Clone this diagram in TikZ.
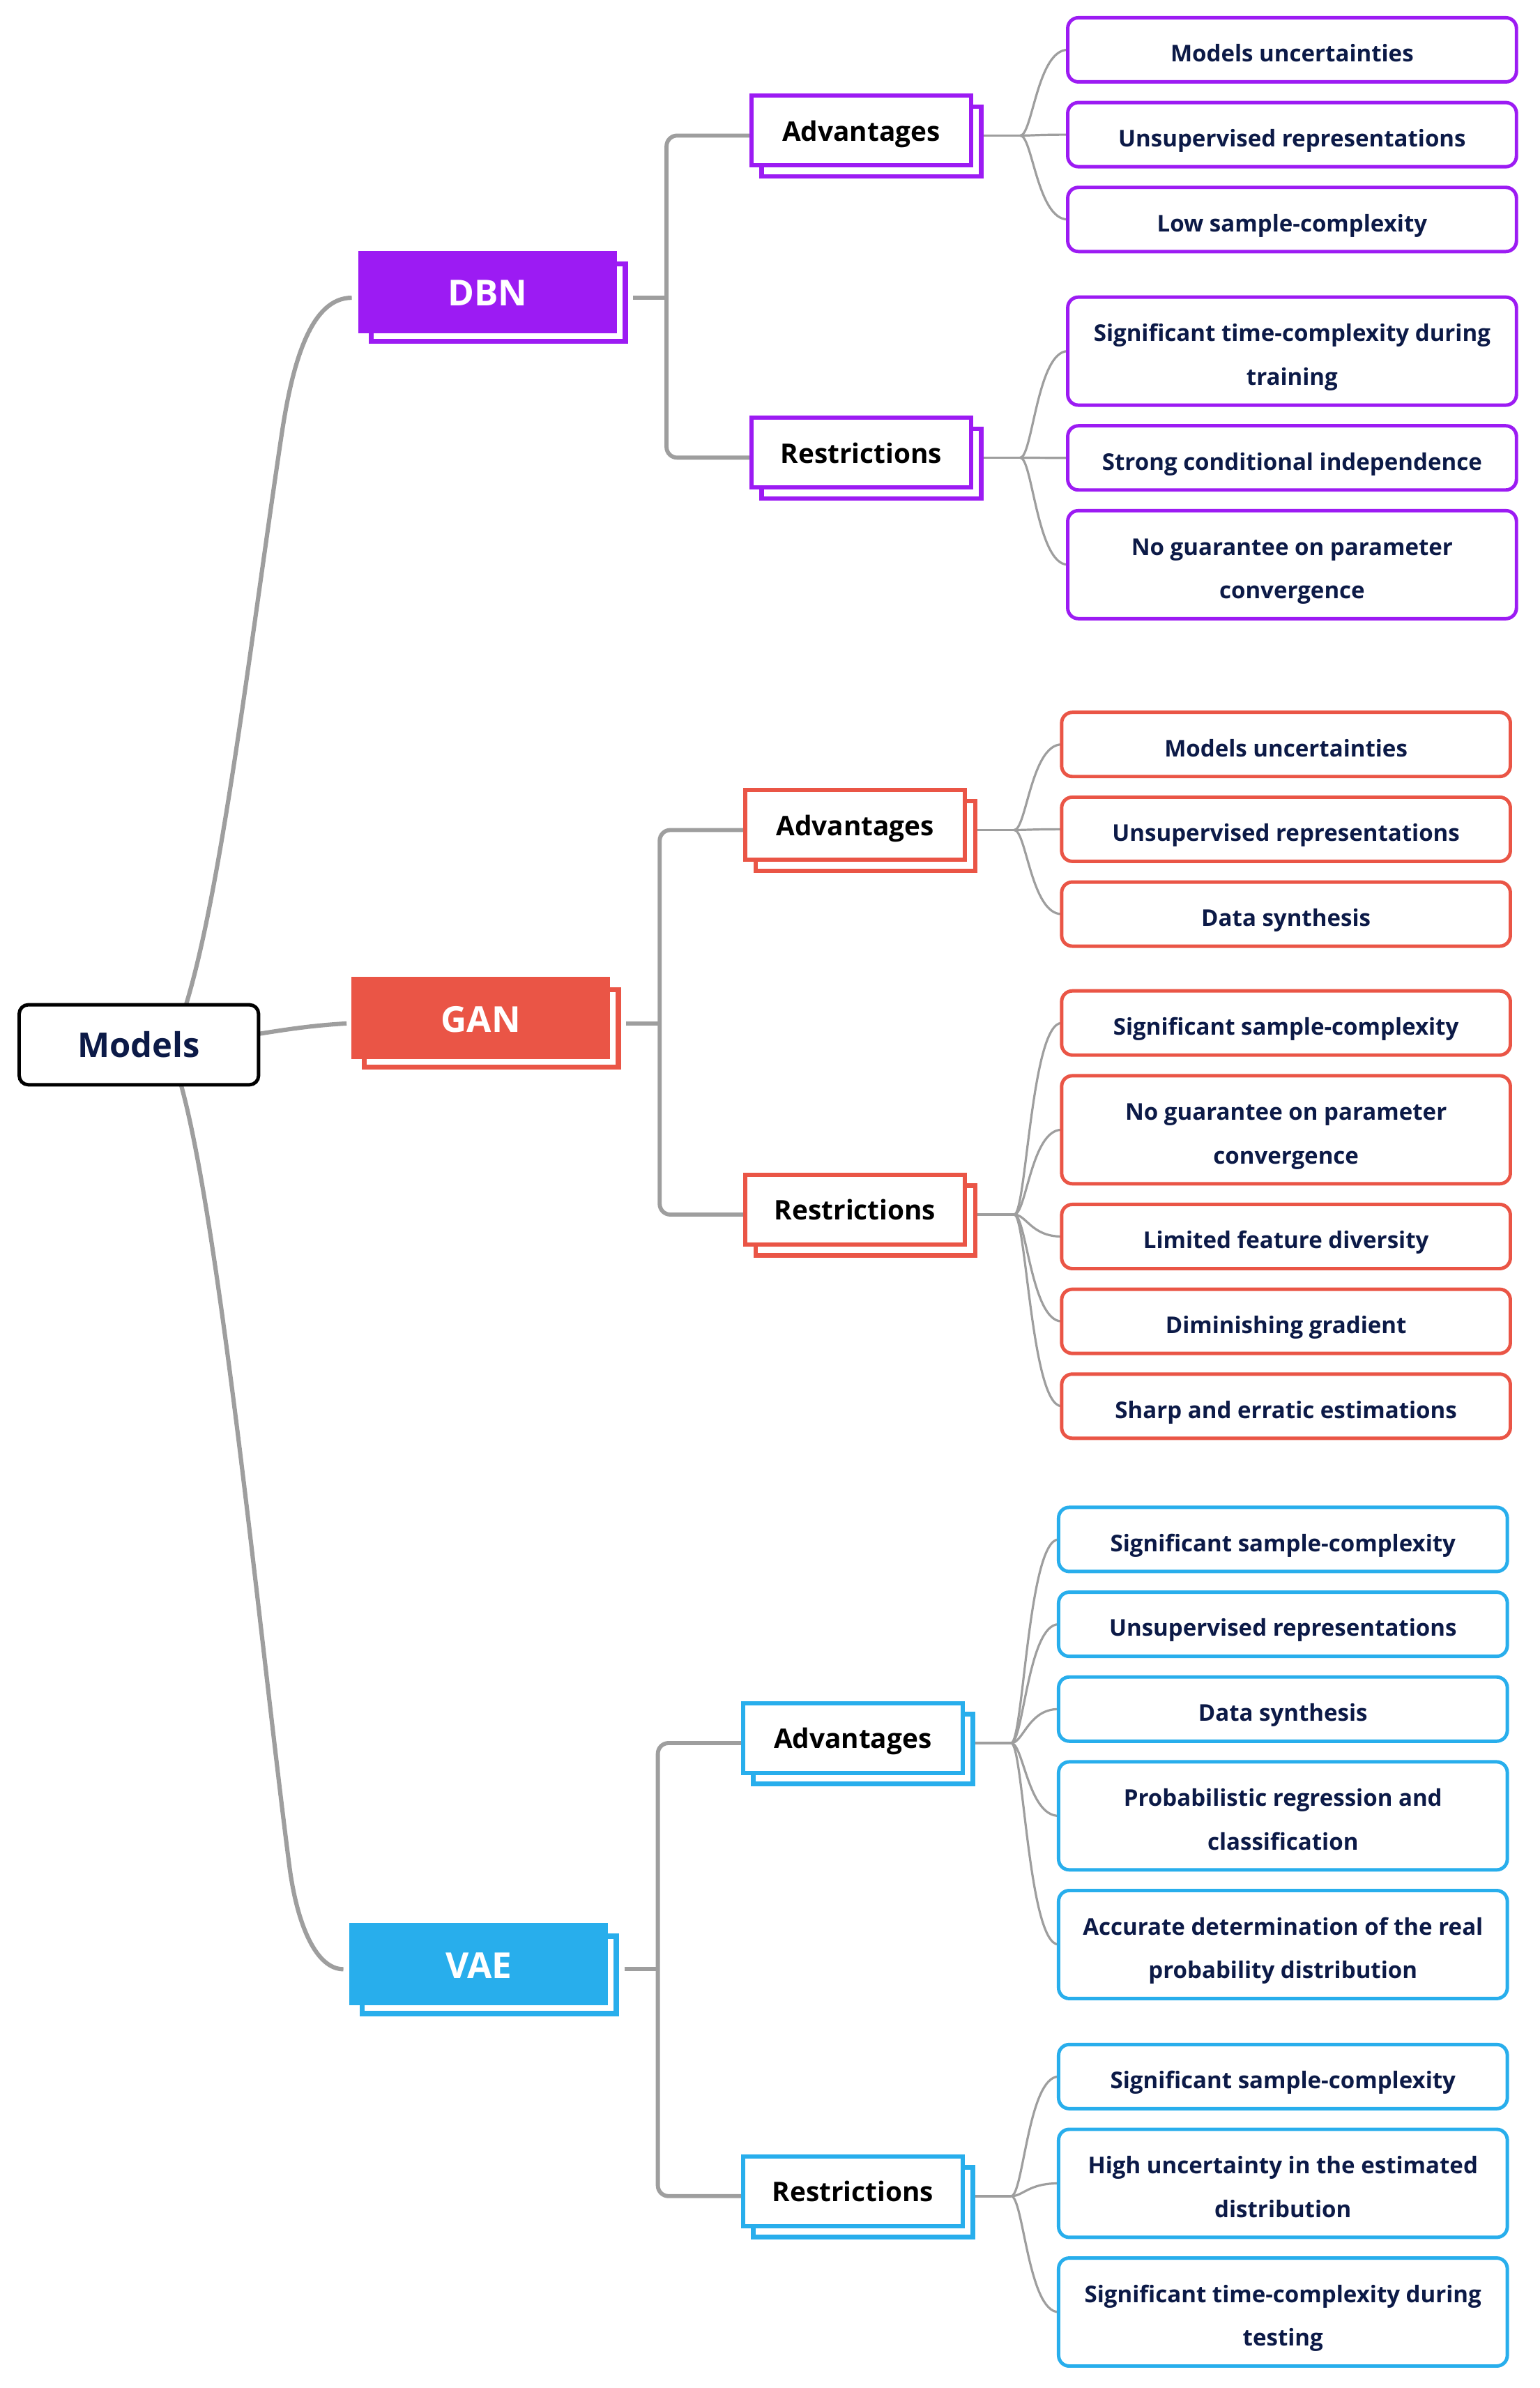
\documentclass[tikz,border=0pt]{standalone}
\usepackage{fontspec}
\setmainfont{Open Sans}
\usetikzlibrary{backgrounds}
\definecolor{navy}{HTML}{0C1A47}
\definecolor{cdbn}{HTML}{9C1BF3}
\definecolor{cgan}{HTML}{EA5546}
\definecolor{cvae}{HTML}{28AEEC}
\definecolor{gline}{HTML}{9E9E9E}
\newcommand\tlines[2]{\vtop{\halign{\hfil##\hfil\cr #1\cr #2\cr}}}
\begin{document}
\begin{tikzpicture}[x=0.75pt,y=-0.75pt,
  leafbox/.style={draw=#1, line width=1.7pt, rounded corners=5.25pt, fill=white,
    minimum width=221pt, minimum height=31.6pt, inner sep=0pt, outer sep=0pt,
    text height=11.9pt, text depth=0pt,
    text=navy, font=\fontsize{11.35}{21.45}\selectfont\bfseries},
  leafboxd/.style={leafbox=#1, minimum height=53.2pt, text height=0pt, text depth=9.4pt},
  midbox/.style={draw=#1, line width=2.06pt, fill=white, minimum width=108.15pt,
    minimum height=34.35pt, inner sep=0pt, outer sep=0pt, text=black,
    text height=10.3pt, text depth=0pt,
    font=\fontsize{13.3}{15}\selectfont\bfseries},
  midshadow/.style={draw=#1, line width=2.25pt, fill=white},
  bigbox/.style={fill=#1, minimum width=127.5pt, minimum height=40.5pt, inner sep=0pt,
    outer sep=0pt, text=white, text height=13.6pt, text depth=0pt,
    font=\fontsize{17.6}{20}\selectfont\bfseries},
  bigshadow/.style={draw=#1, line width=2.5pt, fill=white},
  rootbox/.style={draw=black, line width=1.7pt, rounded corners=4.5pt, fill=white,
    minimum width=117.9pt, minimum height=39.4pt, inner sep=0pt, outer sep=0pt,
    text height=12.3pt, text depth=0pt,
    text=navy, font=\fontsize{16.8}{20}\selectfont\bfseries},
  mainconn/.style={draw=gline, line width=2.1pt},
  barconn/.style={draw=gline, line width=2pt, rounded corners=5.25pt},
  stubconn/.style={draw=gline, line width=1.3pt},
  leafconn/.style={draw=gline, line width=1.1pt}
]
\useasboundingbox (0,0) rectangle (1011,1568);

% root
\node[rootbox] (models) at (91.2,686) {Models};

% big boxes
\draw[bigshadow=cdbn] (243.8,173.3) rectangle (410.6,224.1);
\node[bigbox=cdbn] (dbn) at (320.3,191.8) {DBN};
\draw[bigshadow=cgan] (239.3,650) rectangle (406.1,700.8);
\node[bigbox=cgan] (gan) at (315.8,668.5) {GAN};
\draw[bigshadow=cvae] (237.9,1271.3) rectangle (404.7,1322.1);
\node[bigbox=cvae] (vae) at (314.4,1289.8) {VAE};

% mid boxes
\draw[midshadow=cdbn] (500.2,70) rectangle (644.4,115.8);
\node[midbox=cdbn] (dbnadv) at (565.5,85.7) {Advantages};
\draw[midshadow=cdbn] (500.2,281.5) rectangle (644.4,327.3);
\node[midbox=cdbn] (dbnres) at (565.5,297.2) {Restrictions};
\draw[midshadow=cgan] (496.2,526) rectangle (640.4,571.8);
\node[midbox=cgan] (ganadv) at (561.5,541.7) {Advantages};
\draw[midshadow=cgan] (496.2,778.5) rectangle (640.4,824.3);
\node[midbox=cgan] (ganres) at (561.5,794.2) {Restrictions};
\draw[midshadow=cvae] (494.7,1125.5) rectangle (638.9,1171.3);
\node[midbox=cvae] (vaeadv) at (560,1141.2) {Advantages};
\draw[midshadow=cvae] (494.7,1423) rectangle (638.9,1468.8);
\node[midbox=cvae] (vaeres) at (560,1438.7) {Restrictions};

% DBN leaves
\node[leafbox=cdbn] (da1) at (848.5,32.7) {Models uncertainties};
\node[leafbox=cdbn] (da2) at (848.5,88.4) {Unsupervised representations};
\node[leafbox=cdbn] (da3) at (848.5,144.1) {Low sample-complexity};
\node[leafboxd=cdbn] (dr1) at (848.5,230.55) {\tlines{Significant time-complexity during}{training}};
\node[leafbox=cdbn] (dr2) at (848.5,300.65) {Strong conditional independence};
\node[leafboxd=cdbn] (dr3) at (848.5,370.75) {\tlines{No guarantee on parameter}{convergence}};

% GAN leaves
\node[leafbox=cgan] (ga1) at (844.5,488.8) {Models uncertainties};
\node[leafbox=cgan] (ga2) at (844.5,544.5) {Unsupervised representations};
\node[leafbox=cgan] (ga3) at (844.5,600.2) {Data synthesis};
\node[leafbox=cgan] (gr1) at (844.5,671.7) {Significant sample-complexity};
\node[leafboxd=cgan] (gr2) at (844.5,741.8) {\tlines{No guarantee on parameter}{convergence}};
\node[leafbox=cgan] (gr3) at (844.5,811.9) {Limited feature diversity};
\node[leafbox=cgan] (gr4) at (844.5,867.6) {Diminishing gradient};
\node[leafbox=cgan] (gr5) at (844.5,923.3) {Sharp and erratic estimations};

% VAE leaves
\node[leafbox=cvae] (va1) at (842.5,1010.8) {Significant sample-complexity};
\node[leafbox=cvae] (va2) at (842.5,1066.5) {Unsupervised representations};
\node[leafbox=cvae] (va3) at (842.5,1122.2) {Data synthesis};
\node[leafboxd=cvae] (va4) at (842.5,1192.3) {\tlines{Probabilistic regression and}{classification}};
\node[leafboxd=cvae] (va5) at (842.5,1276.8) {\tlines{Accurate determination of the real}{probability distribution}};
\node[leafbox=cvae] (vr1) at (842.5,1363.5) {Significant sample-complexity};
\node[leafboxd=cvae] (vr2) at (842.5,1433.6) {\tlines{High uncertainty in the estimated}{distribution}};
\node[leafboxd=cvae] (vr3) at (842.5,1518.1) {\tlines{Significant time-complexity during}{testing}};

% connection points
\coordinate (dbnin) at (231,195.5);
\coordinate (dbnout) at (415.9,195.5);
\coordinate (dbnbar) at (437.7,195.5);
\coordinate (dbnadvin) at (493,89);
\coordinate (dbnresin) at (493,300.5);
\coordinate (dbnadvout) at (645.9,89);
\coordinate (dbnadvj) at (670,89);
\coordinate (dbnresout) at (645.9,300.5);
\coordinate (dbnresj) at (670,300.5);

\coordinate (ganin) at (227.6,672);
\coordinate (ganout) at (411.3,672);
\coordinate (ganbar) at (433.2,672);
\coordinate (ganadvin) at (489,545);
\coordinate (ganresin) at (489,797.5);
\coordinate (ganadvout) at (641.9,545);
\coordinate (ganadvj) at (666,545);
\coordinate (ganresout) at (641.9,797.5);
\coordinate (ganresj) at (666,797.5);

\coordinate (vaein) at (225.5,1293);
\coordinate (vaeout) at (410,1293);
\coordinate (vaebar) at (432,1293);
\coordinate (vaeadvin) at (487.5,1144.5);
\coordinate (vaeresin) at (487.5,1442);
\coordinate (vaeadvout) at (640.4,1144.5);
\coordinate (vaeadvj) at (664,1144.5);
\coordinate (vaeresout) at (640.4,1442);
\coordinate (vaeresj) at (664,1442);

\begin{pgfonlayer}{background}
\fill[white] (0,0) rectangle (1011,1568);
% root connectors
\draw[mainconn] ([xshift=17.85pt,yshift=4.5pt]models.center) .. controls (142,615) and (162.5,435) .. (185,285) .. controls (192.5,235) and (205,195.5) .. (dbnin);
\draw[mainconn] (models.center) .. controls (150,686) and (175,675) .. (ganin);
\draw[mainconn] ([xshift=15.6pt,yshift=-4.5pt]models.center) .. controls (140,755) and (170.5,1075) .. (190,1225) .. controls (195.2,1265) and (208,1293) .. (vaein);

% big box to bars
\draw[mainconn] (dbnout) -- (dbnbar);
\draw[barconn] (dbnadvin) -| (dbnbar) |- (dbnresin);
\draw[mainconn] (ganout) -- (ganbar);
\draw[barconn] (ganadvin) -| (ganbar) |- (ganresin);
\draw[mainconn] (vaeout) -- (vaebar);
\draw[barconn] (vaeadvin) -| (vaebar) |- (vaeresin);

% stubs
\draw[stubconn] (dbnadvout) -- (dbnadvj);
\draw[stubconn] (dbnresout) -- (dbnresj);
\draw[stubconn] (ganadvout) -- (ganadvj);
\draw[stubconn] (ganresout) -- (ganresj);
\draw[stubconn] (vaeadvout) -- (vaeadvj);
\draw[stubconn] (vaeresout) -- (vaeresj);

% leaf connectors
\foreach \l in {da1,da2,da3} \draw[leafconn] (dbnadvj) .. controls +(8,0) and +(-20,0) .. (\l.west);
\foreach \l in {dr1,dr2,dr3} \draw[leafconn] (dbnresj) .. controls +(8,0) and +(-20,0) .. (\l.west);
\foreach \l in {ga1,ga2,ga3} \draw[leafconn] (ganadvj) .. controls +(8,0) and +(-20,0) .. (\l.west);
\foreach \l in {gr1,gr2,gr3,gr4,gr5} \draw[leafconn] (ganresj) .. controls +(8,0) and +(-20,0) .. (\l.west);
\foreach \l in {va1,va2,va3,va4,va5} \draw[leafconn] (vaeadvj) .. controls +(8,0) and +(-20,0) .. (\l.west);
\foreach \l in {vr1,vr2,vr3} \draw[leafconn] (vaeresj) .. controls +(8,0) and +(-20,0) .. (\l.west);
\end{pgfonlayer}
\end{tikzpicture}
\end{document}
